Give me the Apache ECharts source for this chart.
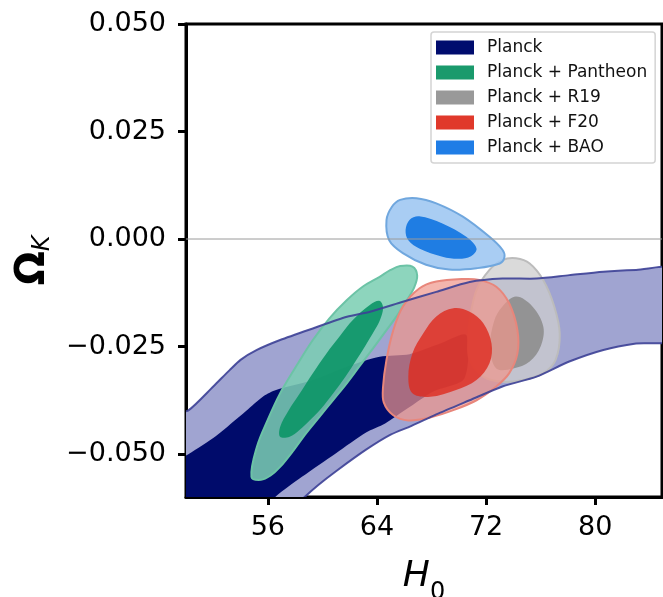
<!DOCTYPE html>
<html>
<head>
<meta charset="utf-8">
<script src="https://cdn.jsdelivr.net/npm/echarts@6/dist/echarts.min.js"></script>
<style>
  html, body { margin: 0; padding: 0; background: #fff; }
  #chart { width: 663px; height: 597px; }
</style>
</head>
<body>
<div id="chart"></div>
<script>
// 轴刻度
const xTicks = [56, 64, 72, 80];
const yTicks = [-0.05, -0.025, 0, 0.025, 0.05];
const yTickLabels = ["\u22120.050", "\u22120.025", "0.000", "0.025", "0.050"];

// 图例名称
const names = ["Planck", "Planck + Pantheon", "Planck + R19", "Planck + F20", "Planck + BAO"];

// 轮廓 [H0, ΩK]
const planckOuter = [
  [49, -0.0412], [50.2, -0.0398], [52.0, -0.0343], [53.2, -0.0305], [54.0, -0.0281],
  [55.2, -0.0258], [56.9, -0.0235], [59.3, -0.0208], [61.8, -0.0181], [63.5, -0.0169],
  [65.9, -0.0146], [68.35, -0.0123], [70.8, -0.0100], [73.2, -0.0092], [75.7, -0.0092],
  [78.1, -0.0084], [80.6, -0.0076], [83.0, -0.0072], [86, -0.0070],
  [86, -0.0233], [83.0, -0.0243], [80.6, -0.0258], [78.1, -0.0285], [75.7, -0.0320],
  [73.2, -0.0343], [70.8, -0.0375], [68.35, -0.0408], [66.5, -0.0435], [65.0, -0.0455],
  [63.2, -0.0490], [61.0, -0.0540], [59.7, -0.0572], [58.7, -0.0600], [57.9, -0.0625],
  [49, -0.0625]
];
const planckInner = [
  [49, -0.0525], [50.2, -0.0500], [52.2, -0.0458], [54.4, -0.0400], [55.7, -0.0365],
  [56.6, -0.0351], [59.3, -0.0328], [61.8, -0.0297], [64.2, -0.0274], [66.4, -0.0268],
  [68.5, -0.0245], [70.55, -0.0223], [70.4, -0.0325], [68.1, -0.0355], [66.2, -0.0395],
  [64.6, -0.0429], [63.2, -0.0450], [61.0, -0.0498], [58.5, -0.0553], [56.6, -0.0598],
  [55.8, -0.0625], [49, -0.0625]
];
const pantheonOuter = [
  [54.8, -0.0553], [55.2, -0.0483], [56.0, -0.0420], [56.9, -0.0359], [58.1, -0.0295],
  [59.3, -0.0235], [60.5, -0.0185], [61.8, -0.0142], [63.0, -0.0110], [64.2, -0.0088],
  [65.0, -0.0072], [65.7, -0.0063], [66.6, -0.0064], [66.95, -0.0085], [66.7, -0.0115],
  [66.2, -0.0142], [65.5, -0.0177], [64.7, -0.0212], [63.7, -0.0255], [62.7, -0.0297],
  [61.8, -0.0335], [60.8, -0.0374], [59.8, -0.0413], [58.8, -0.0452], [57.8, -0.0495],
  [56.9, -0.0530], [56.2, -0.0550], [55.5, -0.0560]
];
const pantheonInner = [
  [56.9, -0.0460], [56.9, -0.0437], [57.5, -0.0400], [58.35, -0.0359], [59.3, -0.0312],
  [60.3, -0.0266], [61.3, -0.0225], [62.25, -0.0188], [63.5, -0.0153], [64.2, -0.0144],
  [64.45, -0.0160], [64.2, -0.0190], [63.7, -0.0219], [62.5, -0.0281], [61.7, -0.0320],
  [60.8, -0.0359], [59.9, -0.0395], [59.1, -0.0421], [58.3, -0.0445], [57.6, -0.0460]
];
const r19Outer = [
  [74.2, -0.0045], [75.2, -0.0057], [76.2, -0.0096], [77.0, -0.0157], [77.4, -0.0220],
  [77.1, -0.0281], [76.2, -0.0312], [74.7, -0.0328], [73.2, -0.0332], [71.8, -0.0320],
  [70.8, -0.0281], [70.7, -0.0230], [70.8, -0.0188], [71.3, -0.0119], [72.25, -0.0072],
  [73.2, -0.0049]
];
const r19Inner = [
  [74.2, -0.0134], [75.4, -0.0157], [76.2, -0.0204], [76.0, -0.0250], [75.2, -0.0285],
  [74.0, -0.0301], [72.75, -0.0301], [72.3, -0.0250], [72.6, -0.0190], [73.2, -0.0157]
];
const f20Outer = [
  [67.1, -0.0115], [68.35, -0.0099], [70.3, -0.0093], [71.5, -0.0095], [72.75, -0.0111],
  [73.7, -0.0150], [74.3, -0.0212], [74.3, -0.0266], [73.7, -0.0312], [72.75, -0.0343],
  [71.3, -0.0375], [69.6, -0.0398], [67.9, -0.0415], [66.3, -0.0422], [65.2, -0.0410],
  [64.5, -0.0380], [64.45, -0.0343], [64.7, -0.0281], [65.2, -0.0212], [65.9, -0.0157]
];
const f20Inner = [
  [69.6, -0.0161], [70.8, -0.0169], [71.8, -0.0196], [72.4, -0.0243], [72.25, -0.0289],
  [71.3, -0.0328], [69.8, -0.0351], [67.9, -0.0367], [66.6, -0.0359], [66.3, -0.0320],
  [66.6, -0.0266], [67.4, -0.0219], [68.35, -0.0180]
];
const baoOuter = [
  [64.7, 0.0044], [65.1, 0.0075], [65.7, 0.0091], [66.9, 0.0095], [68.35, 0.0083],
  [70.3, 0.0052], [72.25, 0.0005], [73.2, -0.0025], [73.35, -0.0042], [73.0, -0.0057],
  [71.3, -0.0068], [69.3, -0.0071], [67.6, -0.0060], [65.9, -0.0033], [64.9, -0.0003]
];
const baoInner = [
  [66.1, 0.0021], [66.4, 0.0045], [67.1, 0.0053], [68.8, 0.0036], [70.55, 0.0005],
  [71.3, -0.0022], [70.9, -0.0040], [70.0, -0.0046], [68.8, -0.0041], [67.1, -0.0022],
  [66.3, -0.0003]
];

const FONT = "DejaVu Sans";

// 一个 custom 系列画若干多边形
function contourSeries(name, polys, styles, smooth) {
  return {
    name: name,
    type: "custom",
    clip: true,
    silent: true,
    data: polys.map((p) => p[0]),
    renderItem: function (params, api) {
      const pts = polys[params.dataIndex].map((p) => api.coord(p));
      return {
        type: "polygon",
        shape: { points: pts, smooth: smooth },
        style: styles[params.dataIndex]
      };
    }
  };
}

const chart = echarts.init(document.getElementById("chart"));

chart.setOption({
  animation: false,
  grid: {
    left: 186, right: 1, top: 24, bottom: 100,
    containLabel: false,
    outerBoundsMode: "none",
    show: true, borderColor: "#000", borderWidth: 3, backgroundColor: "transparent"
  },
  legend: {
    orient: "vertical",
    left: 431,
    top: 32,
    padding: [7, 8, 7, 5],
    itemWidth: 38,
    itemHeight: 14,
    itemGap: 8,
    icon: "rect",
    backgroundColor: "#fff",
    borderColor: "#d4d4d4",
    borderWidth: 1.5,
    borderRadius: 3,
    textStyle: { fontFamily: FONT, fontSize: 17, color: "#111", padding: [0, 0, 0, 8] },
    data: [
      { name: names[0], itemStyle: { color: "#000c6e", borderWidth: 0 } },
      { name: names[1], itemStyle: { color: "#1a9a6c", borderWidth: 0 } },
      { name: names[2], itemStyle: { color: "#999999", borderWidth: 0 } },
      { name: names[3], itemStyle: { color: "#e0392b", borderWidth: 0 } },
      { name: names[4], itemStyle: { color: "#1f7de6", borderWidth: 0 } }
    ]
  },
  xAxis: {
    type: "value",
    min: 50,
    max: 84.9,
    name: "{i|H}{s|0}",
    nameLocation: "middle",
    nameGap: 62,
    nameTextStyle: {
      rich: {
        i: { fontFamily: FONT, fontStyle: "italic", fontSize: 36, color: "#000", lineHeight: 46, verticalAlign: "top" },
        s: { fontFamily: FONT, fontSize: 24, color: "#000", lineHeight: 46, verticalAlign: "bottom" }
      }
    },
    axisLine: { onZero: false, lineStyle: { color: "#000", width: 3 } },
    axisTick: { customValues: xTicks, length: 8, lineStyle: { color: "#000", width: 3 } },
    axisLabel: { customValues: xTicks, fontFamily: FONT, fontSize: 27, color: "#000", margin: 17 },
    splitLine: { show: false }
  },
  yAxis: {
    type: "value",
    min: -0.06,
    max: 0.05,
    name: "{o|\u03a9}{k|K}",
    nameLocation: "middle",
    nameRotate: 90,
    nameGap: 128,
    nameTextStyle: {
      rich: {
        o: { fontFamily: FONT, fontWeight: "bold", fontSize: 40, color: "#000", lineHeight: 42, verticalAlign: "top" },
        k: { fontFamily: FONT, fontStyle: "italic", fontSize: 24, color: "#000", lineHeight: 42, verticalAlign: "bottom" }
      }
    },
    axisLine: { onZero: false, lineStyle: { color: "#000", width: 3 } },
    axisTick: { customValues: yTicks, length: 8, lineStyle: { color: "#000", width: 3 } },
    axisLabel: {
      customValues: yTicks,
      fontFamily: FONT,
      fontSize: 27,
      color: "#000",
      margin: 20,
      formatter: function (v) {
        let best = 0;
        yTicks.forEach((t, i) => { if (Math.abs(t - v) < Math.abs(yTicks[best] - v)) best = i; });
        return yTickLabels[best];
      }
    },
    splitLine: { show: false }
  },
  series: [
    contourSeries(names[0], [planckOuter, planckInner], [
      { fill: "#a0a4d1", stroke: null },
      { fill: "#000b6b", stroke: null }
    ], 0.25),
    contourSeries(names[1], [pantheonOuter, pantheonInner], [
      { fill: "rgba(122,206,178,0.86)", stroke: "#6cc3a6", lineWidth: 2 },
      { fill: "rgba(14,150,104,0.92)", stroke: null }
    ], 0.35),
    contourSeries(names[2], [r19Outer, r19Inner], [
      { fill: "rgba(205,205,205,0.75)", stroke: "#bcbcbc", lineWidth: 2 },
      { fill: "rgba(140,140,140,0.88)", stroke: null }
    ], 0.35),
    contourSeries(names[3], [f20Outer, f20Inner], [
      { fill: "rgba(240,150,138,0.7)", stroke: "#e8867b", lineWidth: 2 },
      { fill: "rgba(222,44,32,0.82)", stroke: null }
    ], 0.35),
    contourSeries(names[0], [planckOuter], [
      { fill: null, stroke: "rgba(60,64,150,0.9)", lineWidth: 2 }
    ], 0.25),
    contourSeries(names[4], [baoOuter, baoInner], [
      { fill: "rgba(160,200,242,0.9)", stroke: "#70a7de", lineWidth: 2 },
      { fill: "#1f7de3", stroke: null }
    ], 0.35),
    {
      type: "line",
      silent: true,
      symbol: "none",
      data: [[50, 0], [84.9, 0]],
      lineStyle: { color: "#9a9a9a", width: 1 },
      z: 5
    }
  ]
});
</script>
</body>
</html>
